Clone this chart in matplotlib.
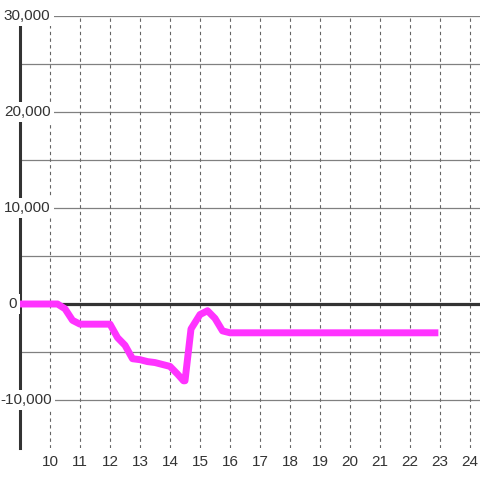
import matplotlib
matplotlib.use('Agg')
from matplotlib import pyplot as plt

# 时间（小时）和数值
hours = [9.0, 10.25, 10.5, 10.75, 11.0, 12.0, 12.25, 12.5, 12.75, 13.0, 13.25, 13.5,
         13.75, 14.0, 14.25, 14.45, 14.5, 14.7, 15.0, 15.25, 15.5, 15.75, 16.0, 22.83]
values = [0, 0, -500, -1700, -2100, -2100, -3500, -4300, -5700, -5800, -6000, -6100,
          -6300, -6500, -7300, -8000, -8000, -2600, -1100, -700, -1500, -2800, -3000, -3000]

x_ticks = list(range(10, 25))
y_major = [-10000, 0, 10000, 20000, 30000]
y_labels = ['-10,000', '0', '10,000', '20,000', '30,000']
y_grid = [-10000, -5000, 5000, 10000, 15000, 20000, 25000, 30000]

plt.rcParams['font.family'] = ['Liberation Sans', 'DejaVu Sans']

fig = plt.figure(figsize=(4.8, 4.8), dpi=100)
ax = fig.add_axes([20 / 480, 32 / 480, 460 / 480, 432 / 480])
ax.set_xlim(9, 9 + 460 / 30)
ax.set_ylim(-15000, 30000)

for s in ['top', 'right', 'bottom']:
    ax.spines[s].set_visible(False)
ax.spines['left'].set_linewidth(2.2)
ax.spines['left'].set_color('#333333')
ax.spines['left'].set_bounds(-15000, 29170)
ax.spines['left'].set_zorder(3)

# 网格
for v in y_grid:
    ax.axhline(v, color='#808080', lw=0.9, zorder=1)
for h in x_ticks:
    ax.axvline(h, color='#666666', lw=0.8, ls=(0, (3, 3)), zorder=1)
ax.axhline(0, color='#333333', lw=2.3, zorder=2)

ax.plot(hours, values, color='#ff33ff', lw=5, solid_joinstyle='round', zorder=4)

ax.set_xticks(x_ticks)
ax.set_xticklabels([str(h) for h in x_ticks])
ax.set_yticks([])
ax.tick_params(axis='x', length=0, pad=5, labelsize=11, labelcolor='#333333')

# y 轴标签（白底盖住网格）
for v, lab in zip(y_major, y_labels):
    if lab == '0':
        xpos = 16.5
    elif lab.startswith('-'):
        xpos = 52
    else:
        xpos = 50.5
    ax.text(9 + (xpos - 20) / 30, v, lab, ha='right', va='center', fontsize=11,
            color='#333333', zorder=5,
            bbox=dict(boxstyle='square,pad=0.2', fc='white', ec='none'))

plt.savefig('out.png')
